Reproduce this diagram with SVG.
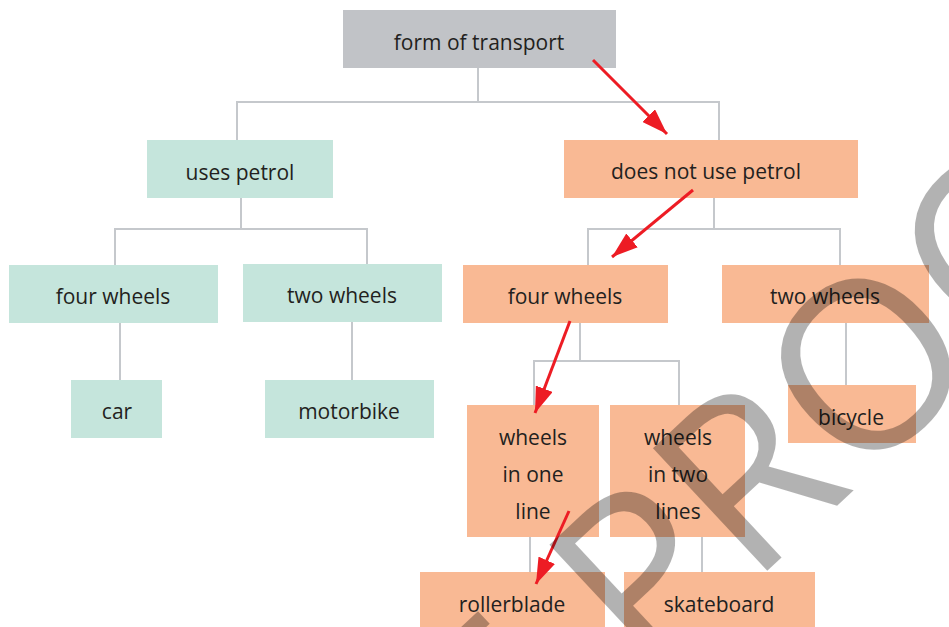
<svg xmlns="http://www.w3.org/2000/svg" width="949" height="627" viewBox="0 0 949 627">
<defs>
<style>
.t{font-family:"Open Sans","Noto Sans","DejaVu Sans",sans-serif;font-size:21px;fill:#231f20;text-anchor:middle}
.g{fill:#c1c3c7}
.m{fill:#c5e5dc}
.o{fill:#f9b994}
.c{fill:none;stroke:#c5c8cc;stroke-width:2}
.r{fill:none;stroke:#ed1c24;stroke-width:3}
.wm{font-family:"Open Sans","Noto Sans",sans-serif;font-size:235px;fill:#000;fill-opacity:0.3}
</style>
<marker id="ah" markerUnits="userSpaceOnUse" markerWidth="26" markerHeight="18" refX="26" refY="9" orient="auto">
<path d="M0,0 L26,9 L0,18 z" fill="#ed1c24"/>
</marker>
</defs>
<rect width="949" height="627" fill="#fff"/>
<g id="connectors">
<path class="c" d="M478,68 V102 M237,140 V102 H719 V140"/>
<path class="c" d="M241,198 V229 M115,265 V229 H367 V264"/>
<path class="c" d="M120,323 V380 M352,322 V380"/>
<path class="c" d="M714,198 V229 M588,265 V229 H840 V265"/>
<path class="c" d="M846,323 V385"/>
<path class="c" d="M580,323 V361 M534,405 V361 H679 V405"/>
<path class="c" d="M530,537 V572 M702,537 V572"/>
</g>
<g id="n-root"><rect class="g" x="343" y="10" width="273" height="58"/><text class="t" x="479" y="50">form of transport</text></g>
<g id="n-petrol"><rect class="m" x="147" y="140" width="186" height="58"/><text class="t" x="240" y="180">uses petrol</text></g>
<g id="n-nopetrol"><rect class="o" x="564" y="140" width="294" height="58"/><text class="t" x="706" y="179">does not use petrol</text></g>
<g id="n-p4"><rect class="m" x="9" y="265" width="209" height="58"/><text class="t" x="113" y="304">four wheels</text></g>
<g id="n-p2"><rect class="m" x="243" y="264" width="199" height="58"/><text class="t" x="342" y="303">two wheels</text></g>
<g id="n-car"><rect class="m" x="71" y="380" width="91" height="58"/><text class="t" x="117" y="419">car</text></g>
<g id="n-motorbike"><rect class="m" x="265" y="380" width="169" height="58"/><text class="t" x="349" y="419">motorbike</text></g>
<g id="n-n4"><rect class="o" x="463" y="265" width="205" height="58"/><text class="t" x="565" y="304">four wheels</text></g>
<g id="n-n2"><rect class="o" x="722" y="265" width="207" height="58"/><text class="t" x="825" y="304">two wheels</text></g>
<g id="n-bicycle"><rect class="o" x="788" y="385" width="128" height="58"/><text class="t" x="851" y="425">bicycle</text></g>
<g id="n-oneline"><rect class="o" x="467" y="405" width="132" height="132"/><text class="t" x="533" y="445">wheels<tspan x="533" y="482">in one</tspan><tspan x="533" y="519">line</tspan></text></g>
<g id="n-twolines"><rect class="o" x="610" y="405" width="135" height="132"/><text class="t" x="678" y="445">wheels<tspan x="678" y="482">in two</tspan><tspan x="678" y="519">lines</tspan></text></g>
<g id="n-rollerblade"><rect class="o" x="420" y="572" width="185" height="60"/><text class="t" x="512" y="612">rollerblade</text></g>
<g id="n-skateboard"><rect class="o" x="624" y="572" width="191" height="60"/><text class="t" x="719" y="612">skateboard</text></g>
<g id="arrows">
<line class="r" x1="593" y1="60" x2="667" y2="134" marker-end="url(#ah)"/>
<line class="r" x1="693" y1="190" x2="612" y2="257" marker-end="url(#ah)"/>
<line class="r" x1="570" y1="321" x2="535" y2="413" marker-end="url(#ah)"/>
<line class="r" x1="569" y1="511" x2="536" y2="584" marker-end="url(#ah)"/>
</g>
<text class="wm" transform="translate(647,683) rotate(-43)"><tspan x="-843" y="0">PROOF</tspan><tspan x="0" y="0">PROOF</tspan></text>
</svg>
